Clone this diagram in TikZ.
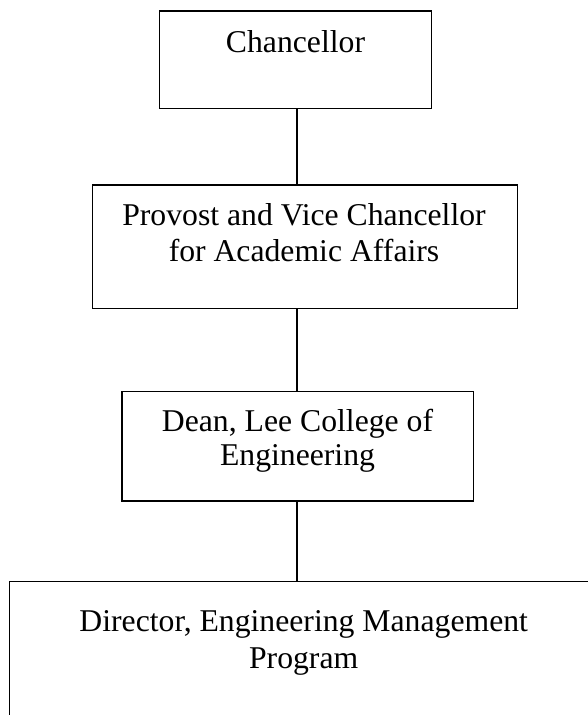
\documentclass[tikz,border=0pt]{standalone}
\usepackage{fontspec}
\setmainfont{Liberation Serif}
\begin{document}
\begin{tikzpicture}[x=1pt,y=-1pt,
  box/.style={draw=black,line width=1.5pt,rectangle,inner sep=0pt},
  lbl/.style={align=center,anchor=base,inner sep=0pt,font=\fontsize{31.7}{36.7}\selectfont},
  link/.style={draw=black,line width=1.5pt}]
\useasboundingbox (0,0) rectangle (588,715);
\clip (0,0) rectangle (588,715);
\fill[white] (0,0) rectangle (588,715);
\coordinate (spine) at (297,0);
\node[box,minimum width=272.4pt,minimum height=97.3pt] (b1) at (295.5,59.7) {};
\node[box,minimum width=425pt,minimum height=123.3pt] (b2) at (304.8,246.7) {};
\node[box,minimum width=351.3pt,minimum height=109.3pt] (b3) at (297.7,446.3) {};
\node[box,minimum width=588.8pt,minimum height=200pt] (b4) at (303.7,681.7) {};
\node[lbl] (t1) at (295.5,52.3) {Chancellor};
\node[lbl] (t2) at (304,261.7) {Provost and Vice Chancellor\\for Academic Affairs};
\node[lbl,font=\fontsize{31.7}{33.3}\selectfont] (t3) at (297.5,465) {Dean, Lee College of\\Engineering};
\node[lbl,font=\fontsize{31.7}{37.3}\selectfont] (t4) at (303.7,668.3) {Director, Engineering Management\\Program};
\draw[link] (b1.south -| spine) -- (b2.north -| spine);
\draw[link] (b2.south -| spine) -- (b3.north -| spine);
\draw[link] (b3.south -| spine) -- (b4.north -| spine);
\end{tikzpicture}
\end{document}
